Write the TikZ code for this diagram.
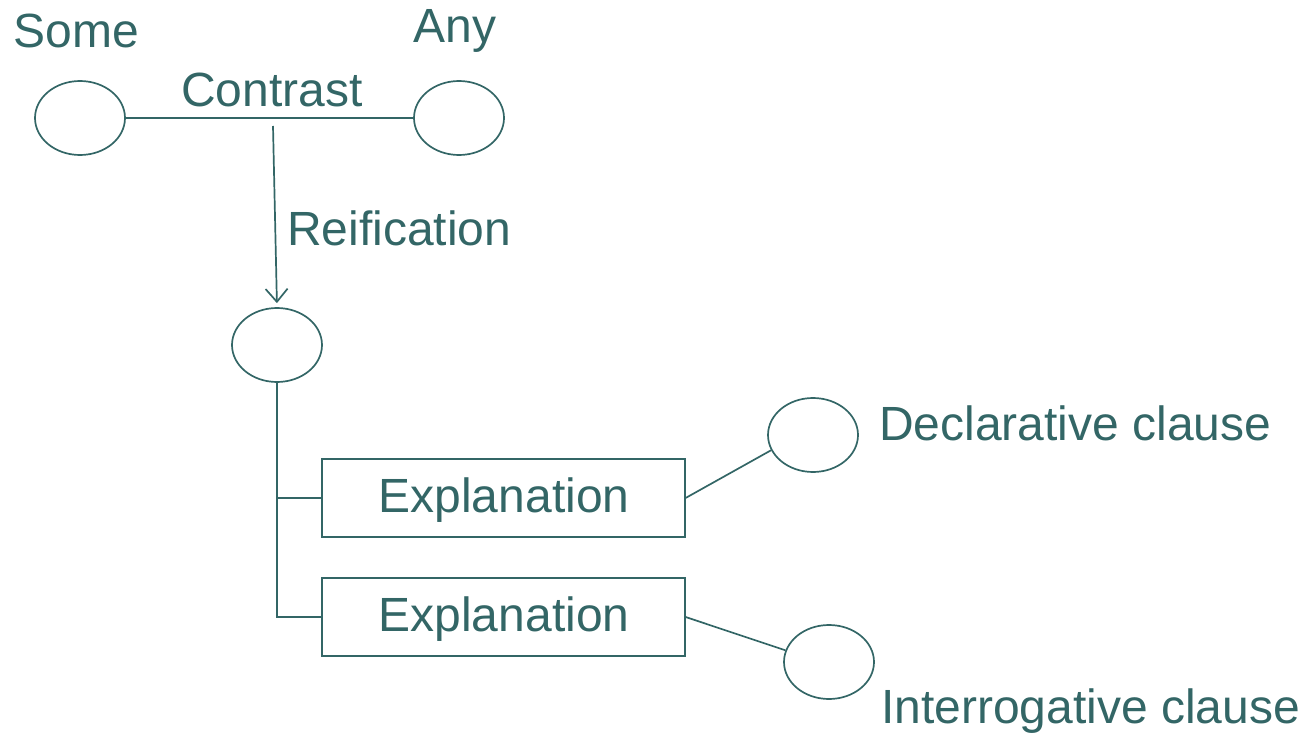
\documentclass[tikz,border=0pt]{standalone}
\usepackage{fontspec}
\setmainfont{Liberation Sans}
\usetikzlibrary{shapes.geometric,arrows.meta}
\definecolor{teal}{RGB}{51,102,102}
\tikzset{
  oval/.style={ellipse, draw=teal, line width=1.7pt, minimum width=90pt, minimum height=74pt, inner sep=0pt},
  expbox/.style={rectangle, draw=teal, line width=1.2pt, minimum width=363pt, minimum height=78pt, inner sep=0pt},
  lbl/.style={text=teal, font=\fontsize{48}{50}\selectfont, inner sep=0pt},
  link/.style={draw=teal, line width=1.7pt}
}
\begin{document}
\begin{tikzpicture}[x=1pt,y=-1pt]
\useasboundingbox (0,0) rectangle (1309,738);
% upper pair of concepts
\node[oval] (some) at (80,118) {};
\node[oval] (any) at (459,118) {};
\node[lbl] (someL) at (76.5,31) {Some};
\node[lbl] (anyL) at (455,31) {Any};
\node[lbl] (contrastL) at (272,90) {Contrast};
\draw[link] (some) -- (any);
% reified concept
\node[oval] (reif) at (277,345) {};
\coordinate (cstart) at (273,126);
\draw[link, -{Straight Barb[length=13pt,width=22pt,line width=1.7pt]}, shorten >=4pt] (cstart) -- (reif.north);
\node[lbl, anchor=west] (reifL) at (287,228) {Reification};
% explanation boxes
\node[expbox] (exp1) at (503.5,498) {};
\node[expbox] (exp2) at (503.5,617) {};
\node[lbl] (exp1L) at (504,500) {Explanation};
\node[lbl] (exp2L) at (504,619) {Explanation};
\coordinate (trunk) at (277,617);
\draw[link] (reif.south) -- (trunk) -- (exp2.west);
\draw[link] (reif.south |- exp1.west) -- (exp1.west);
% clause types
\node[oval] (decl) at (813,435) {};
\node[oval] (inter) at (829,662) {};
\draw[link] (exp1.east) -- (decl.200);
\draw[link] (exp2.east) -- (inter.165);
\node[lbl, anchor=west] (declL) at (879,423) {Declarative clause};
\node[lbl, anchor=west] (interL) at (881,711) {Interrogative clause};
\end{tikzpicture}
\end{document}
